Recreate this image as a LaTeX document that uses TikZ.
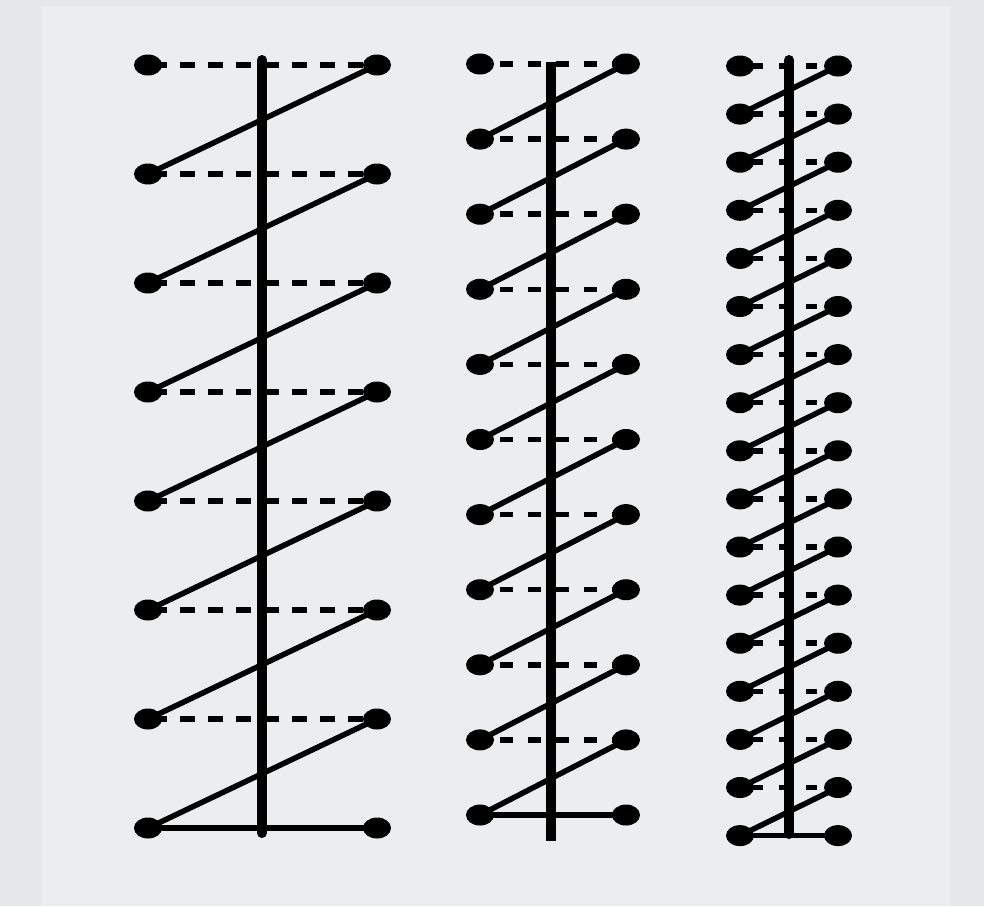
\documentclass[tikz,border=0pt]{standalone}
\usetikzlibrary{shapes.geometric}
\definecolor{bgout}{HTML}{E6E7E8}
\definecolor{bgin}{HTML}{ECEDEE}
\begin{document}
\begin{tikzpicture}[x=1pt,y=-1pt,
 dot/.style={ellipse,fill=black,minimum width=28pt,minimum height=21pt,inner sep=0pt},
 rod/.style={line width=10pt,line cap=round},
 diag/.style={line width=5.5pt},
 dshA/.style={line width=5.5pt,dash pattern=on 15pt off 13pt,dash phase=24pt},
 dshB/.style={line width=5.5pt,dash pattern=on 13pt off 15pt,dash phase=8pt},
 dshC/.style={line width=5.5pt,dash pattern=on 11pt off 16pt,dash phase=15pt}]
\fill[bgout] (0,0) rectangle (984,906);
\fill[bgin] (42,6) rectangle (950,906);
\useasboundingbox (0,0) rectangle (984,906);
% ---------- panel 1 ----------
\foreach \i in {1,...,8} {
  \node[dot] (a\i) at (148,{65+(\i-1)*109}) {};
  \node[dot] (b\i) at (377,{65+(\i-1)*109}) {};
}
\foreach \i [evaluate=\i as \j using int(\i+1)] in {1,...,7} {
  \draw[dshA] (a\i.center) -- (b\i.center);
  \draw[diag] (a\j.center) -- (b\i.center);
}
\draw[diag] (a8.center) -- (b8.center);
\coordinate (r1t) at (262,60);
\coordinate (r1b) at (262,833);
\draw[rod] (r1t) -- (r1b);
% ---------- panel 2 ----------
\foreach \i in {1,...,11} {
  \node[dot] (c\i) at (480,{64+(\i-1)*75.1}) {};
  \node[dot] (d\i) at (626,{64+(\i-1)*75.1}) {};
}
\foreach \i [evaluate=\i as \j using int(\i+1)] in {1,...,10} {
  \draw[dshB] (c\i.center) -- (d\i.center);
  \draw[diag] (c\j.center) -- (d\i.center);
}
\draw[diag] (c11.center) -- (d11.center);
\coordinate (r2t) at (551,62);
\coordinate (r2b) at (551,841);
\draw[rod,line cap=butt] (r2t) -- (r2b);
% ---------- panel 3 ----------
\foreach \i in {1,...,17} {
  \node[dot] (e\i) at (740,{66+(\i-1)*48.1}) {};
  \node[dot] (f\i) at (838,{66+(\i-1)*48.1}) {};
}
\foreach \i [evaluate=\i as \j using int(\i+1)] in {1,...,16} {
  \draw[dshC] (e\i.center) -- (f\i.center);
  \draw[diag] (e\j.center) -- (f\i.center);
}
\draw[diag] (e17.center) -- (f17.center);
\coordinate (r3t) at (789,60);
\coordinate (r3b) at (789,834);
\draw[rod] (r3t) -- (r3b);
\end{tikzpicture}
\end{document}
